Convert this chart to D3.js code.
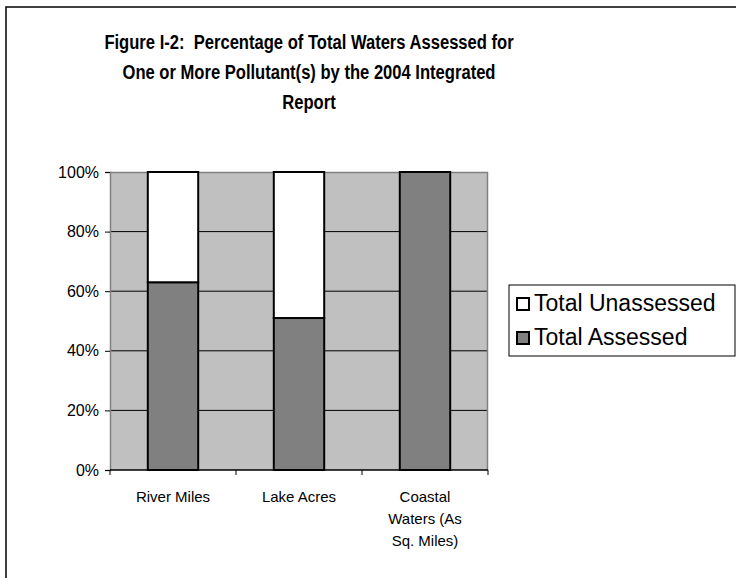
<!DOCTYPE html>
<html>
<head>
<meta charset="utf-8">
<script src="https://cdn.jsdelivr.net/npm/d3@7"></script>
<style>
  body { margin: 0; background: #fff; }
  svg { display: block; font-family: "Liberation Sans", Arial, sans-serif; }
</style>
</head>
<body>
<div id="container"></div>
<script>
// data
let categories = ["River Miles", "Lake Acres", "Coastal Waters (As Sq. Miles)"];
let categoryLines = [["River Miles"], ["Lake Acres"], ["Coastal", "Waters (As", "Sq. Miles)"]];
let assessed = [63, 51, 100];
let unassessed = [37, 49, 0];
let seriesNames = ["Total Unassessed", "Total Assessed"];
let seriesColors = ["#ffffff", "#808080"];
let yTicks = [0, 20, 40, 60, 80, 100];
let titleLines = [
  "Figure I-2:  Percentage of Total Waters Assessed for",
  "One or More Pollutant(s) by the 2004 Integrated",
  "Report"
];

let W = 736, H = 578;
let margin = {top: 172, left: 110},
  width = 378,
  height = 298;

let svg = d3.select("#container").append("svg")
  .attr("width", W).attr("height", H);

// outer chart frame
svg.append("rect")
  .attr("x", 6).attr("y", 7)
  .attr("width", W + 20).attr("height", H + 20)
  .attr("fill", "none").attr("stroke", "#000").attr("stroke-width", 1.5);

// title (narrow look, no narrow font installed so squeeze horizontally)
svg.append("g").selectAll("text").data(titleLines).join("text")
  .attr("transform", (d, i) => "translate(309," + (49 + i * 30) + ") scale(0.79,1)")
  .attr("text-anchor", "middle")
  .attr("font-size", 21).attr("font-weight", "bold")
  .style("white-space", "pre")
  .text(d => d);

let g = svg.append("g").attr("transform", "translate(" + margin.left + "," + margin.top + ")");

var xScale = d3.scaleBand().domain(categories).range([0, width]).paddingInner(0.6).paddingOuter(0.3);
var yScale = d3.scaleLinear().domain([0, 100]).range([height, 0]);
var step = xScale.step();

// plot background
g.append("rect").attr("width", width).attr("height", height).attr("fill", "#c0c0c0");

// gridlines
g.selectAll("line.grid").data(yTicks.filter(d => d > 0 && d < 100)).join("line")
  .attr("class", "grid")
  .attr("x1", 0).attr("x2", width)
  .attr("y1", d => yScale(d)).attr("y2", d => yScale(d))
  .attr("stroke", "#000").attr("stroke-width", 1);

// plot border (top/right)
g.append("path")
  .attr("d", "M0,0.5H" + (width - 0.5) + "V" + height)
  .attr("fill", "none").attr("stroke", "#808080").attr("stroke-width", 1.5);

// stacked bars: assessed at the bottom, unassessed on top
let layers = [
  {color: seriesColors[1], vals: categories.map((c, i) => [0, assessed[i]])},
  {color: seriesColors[0], vals: categories.map((c, i) => [assessed[i], assessed[i] + unassessed[i]])}
];
layers.forEach(function(layer) {
  g.append("g").selectAll("rect")
    .data(layer.vals.map((v, i) => ({v: v, c: categories[i]})).filter(d => d.v[1] > d.v[0]))
    .join("rect")
    .attr("x", d => xScale(d.c))
    .attr("width", xScale.bandwidth())
    .attr("y", d => yScale(d.v[1]))
    .attr("height", d => yScale(d.v[0]) - yScale(d.v[1]))
    .attr("fill", layer.color)
    .attr("stroke", "#000").attr("stroke-width", 2);
});

// y axis
let yAxis = g.append("g")
  .call(d3.axisLeft(yScale).tickValues(yTicks).tickFormat(d => d + "%").tickSize(5).tickPadding(6));
yAxis.selectAll("path, line").attr("stroke", "#000");
yAxis.select("path").attr("stroke", "#808080").attr("stroke-width", 1.5);
yAxis.selectAll("text").attr("font-size", 16).attr("fill", "#000")
  .attr("font-family", "Liberation Sans, Arial, sans-serif");

// x axis with ticks at band boundaries
let xg = g.append("g").attr("transform", "translate(0," + height + ")");
xg.append("line").attr("x1", 0).attr("x2", width).attr("stroke", "#000").attr("stroke-width", 1.5);
xg.selectAll("line.tk").data(d3.range(categories.length + 1)).join("line")
  .attr("class", "tk")
  .attr("x1", d => d * step).attr("x2", d => d * step)
  .attr("y1", 0).attr("y2", 5)
  .attr("stroke", "#000");
xg.selectAll("text").data(categories).join("text")
  .attr("x", d => xScale(d) + xScale.bandwidth() / 2)
  .attr("y", 32)
  .attr("text-anchor", "middle")
  .attr("font-size", 15)
  .selectAll("tspan").data((d, i) => categoryLines[i]).join("tspan")
  .attr("x", function() { return d3.select(this.parentNode).attr("x"); })
  .attr("dy", (d, i) => i === 0 ? 0 : 22)
  .text(d => d);

// legend
let legend = svg.append("g").attr("transform", "translate(509,285)");
legend.append("rect").attr("width", 226).attr("height", 71)
  .attr("fill", "#fff").attr("stroke", "#000").attr("stroke-width", 1);
let items = legend.selectAll("g.item").data(seriesNames).join("g")
  .attr("class", "item")
  .attr("transform", (d, i) => "translate(8," + (13 + i * 34) + ")");
items.append("rect").attr("width", 12).attr("height", 12)
  .attr("fill", (d, i) => seriesColors[i])
  .attr("stroke", "#000").attr("stroke-width", 2);
items.append("text").attr("x", 17).attr("y", 13)
  .attr("font-size", 23).text(d => d);
</script>
</body>
</html>
